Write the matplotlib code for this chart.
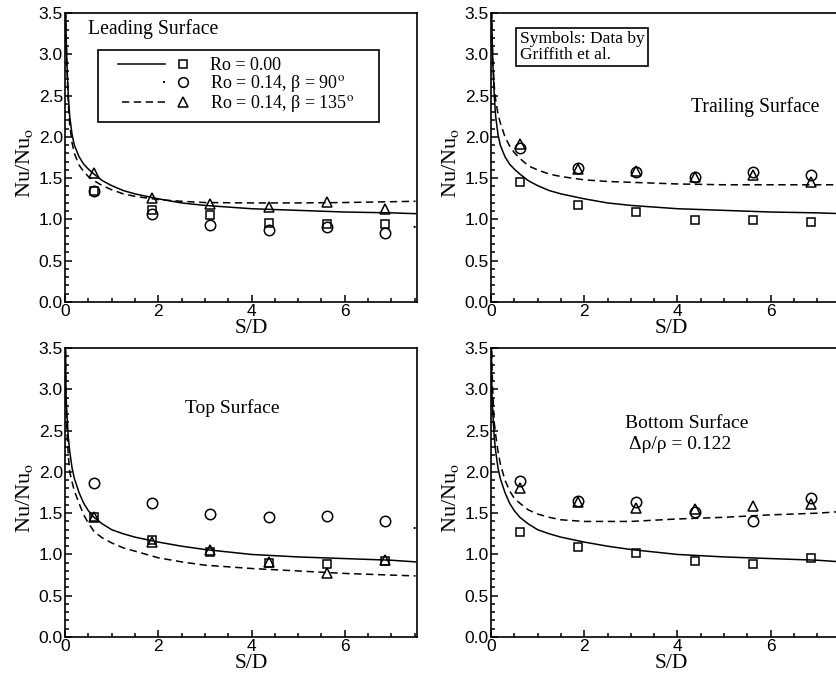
import matplotlib
matplotlib.use("Agg")
import matplotlib.pyplot as plt
from matplotlib.legend_handler import HandlerBase
from matplotlib.lines import Line2D
from matplotlib.ticker import MultipleLocator

plt.rcParams["font.family"] = "Liberation Serif"
plt.rcParams["mathtext.fontset"] = "stix"

# Griffith et al. measurements, taken at every rib station
s_pts = [0.62, 1.87, 3.12, 4.37, 5.62, 6.87]

lead_ro0 = [1.35, 1.12, 1.05, 0.96, 0.95, 0.94]
lead_b90 = [1.34, 1.06, 0.93, 0.87, 0.91, 0.84]
lead_b135 = [1.56, 1.26, 1.19, 1.15, 1.21, 1.13]

trail_ro0 = [1.45, 1.17, 1.09, 0.99, 0.99, 0.97]
trail_b90 = [1.86, 1.62, 1.58, 1.52, 1.57, 1.54]
trail_b135 = [1.91, 1.61, 1.59, 1.51, 1.54, 1.45]

top_ro0 = [1.45, 1.17, 1.03, 0.90, 0.88, 0.92]
top_b90 = [1.87, 1.62, 1.49, 1.45, 1.46, 1.40]
top_b135 = [1.45, 1.15, 1.06, 0.91, 0.78, 0.93]

bot_ro0 = [1.27, 1.09, 1.02, 0.92, 0.89, 0.96]
bot_b90 = [1.89, 1.65, 1.64, 1.52, 1.41, 1.68]
bot_b135 = [1.80, 1.64, 1.56, 1.55, 1.59, 1.61]

# computed spanwise averages along the duct
s_cur = [0.005, 0.02, 0.04, 0.07, 0.1, 0.15, 0.2, 0.3, 0.4, 0.5, 0.62, 0.8,
         1.0, 1.25, 1.5, 2.0, 2.5, 3.0, 4.0, 5.0, 6.0, 7.0, 7.52]

lt_ro0_cur = [3.9, 3.3, 2.9, 2.5, 2.25, 2.03, 1.9, 1.76, 1.67, 1.61, 1.55, 1.47,
              1.41, 1.35, 1.31, 1.25, 1.20, 1.17, 1.13, 1.11, 1.09, 1.08, 1.07]
tb_ro0_cur = [3.9, 2.95, 2.7, 2.42, 2.25, 2.05, 1.92, 1.75, 1.62, 1.53, 1.45, 1.37,
              1.30, 1.25, 1.21, 1.15, 1.10, 1.06, 1.00, 0.97, 0.95, 0.93, 0.91]

lead_b90_cur = [3.9, 3.1, 2.6, 2.2, 1.95, 1.72, 1.58, 1.42, 1.32, 1.26, 1.20, 1.14,
                1.10, 1.06, 1.03, 1.00, 0.98, 0.96, 0.94, 0.93, 0.92, 0.915, 0.91]
lead_b135_cur = [3.9, 3.25, 2.85, 2.4, 2.15, 1.93, 1.8, 1.66, 1.58, 1.52, 1.47, 1.41,
                 1.36, 1.31, 1.28, 1.24, 1.22, 1.205, 1.20, 1.20, 1.205, 1.215, 1.22]
trail_b135_cur = [3.9, 3.3, 2.9, 2.62, 2.45, 2.28, 2.17, 2.0, 1.89, 1.81, 1.74, 1.65,
                  1.60, 1.55, 1.52, 1.48, 1.46, 1.45, 1.43, 1.42, 1.42, 1.42, 1.42]
top_b90_cur = [3.9, 3.3, 2.95, 2.65, 2.45, 2.27, 2.15, 1.98, 1.87, 1.79, 1.72, 1.64,
               1.58, 1.53, 1.50, 1.46, 1.43, 1.41, 1.38, 1.36, 1.34, 1.33, 1.32]
top_b135_cur = [3.9, 2.9, 2.5, 2.2, 2.0, 1.88, 1.77, 1.62, 1.48, 1.38, 1.28, 1.20,
                1.14, 1.08, 1.04, 0.96, 0.91, 0.87, 0.83, 0.80, 0.77, 0.75, 0.74]
bot_b135_cur = [3.9, 3.3, 2.95, 2.6, 2.45, 2.25, 2.1, 1.9, 1.77, 1.68, 1.62, 1.54,
                1.49, 1.45, 1.42, 1.40, 1.40, 1.40, 1.43, 1.45, 1.48, 1.50, 1.52]

legend_labels = ["Ro = 0.00",
                 r"Ro = 0.14, β = 90$^{\rm o}$",
                 r"Ro = 0.14, β = 135$^{\rm o}$"]

DOT = (0, (1, 1000))
DASH = (0, (4.8, 3))
MS = {"s": 6, "o": 7.5, "^": 7.5}


class PairHandler(HandlerBase):
    # line sample followed by the symbol, like the Tecplot legends
    def create_artists(self, legend, orig_handle, xdescent, ydescent,
                       width, height, fontsize, trans):
        ls, mk = orig_handle
        y = height / 2 - ydescent
        x0 = -xdescent
        seg = Line2D([x0 + 0.66 * width, x0 + 0.14 * width], [y, y],
                     color="black", lw=1.4 if ls == DOT else 1.1, linestyle=ls)
        sym = Line2D([x0 + 0.86 * width], [y], marker=mk, ms=MS[mk] - 0.5,
                     mfc="none", mec="black", mew=1.1, linestyle="none")
        seg.set_transform(trans)
        sym.set_transform(trans)
        return [seg, sym]


fig = plt.figure(figsize=(8.36, 6.75), dpi=100)

w, h = 0.421, 0.428
boxes = [[0.0778, 0.5526, w, h], [0.5873, 0.5526, w, h],
         [0.0778, 0.0563, w, h], [0.5873, 0.0563, w, h]]
xlabel_x = [0.528, 0.511, 0.528, 0.511]

panels = [
    (lt_ro0_cur, lead_b90_cur, lead_b135_cur, lead_ro0, lead_b90, lead_b135),
    (lt_ro0_cur, None, trail_b135_cur, trail_ro0, trail_b90, trail_b135),
    (tb_ro0_cur, top_b90_cur, top_b135_cur, top_ro0, top_b90, top_b135),
    (tb_ro0_cur, None, bot_b135_cur, bot_ro0, bot_b90, bot_b135),
]

axes = []
for box, lx, (c0, c90, c135, d0, d90, d135) in zip(boxes, xlabel_x, panels):
    ax = fig.add_axes(box)
    axes.append(ax)
    ax.plot(s_cur, c0, color="black", lw=1.1)
    if c90 is not None:
        ax.plot(s_cur[::-1], c90[::-1], color="black", lw=1.4, linestyle=DOT)
    ax.plot(s_cur, c135, color="black", lw=1.1, linestyle=DASH)
    for vals, mk in ((d0, "s"), (d90, "o"), (d135, "^")):
        ax.plot(s_pts, vals, linestyle="none", marker=mk, ms=MS[mk],
                mfc="none", mec="black", mew=1.1)

    ax.set_xlim(0, 7.55)
    ax.set_ylim(0, 3.5)
    ax.xaxis.set_major_locator(MultipleLocator(2))
    ax.xaxis.set_minor_locator(MultipleLocator(0.5))
    ax.yaxis.set_major_locator(MultipleLocator(0.5))
    ax.yaxis.set_minor_locator(MultipleLocator(0.1))
    ax.yaxis.set_major_formatter(lambda v, p: f"{v:.1f}")
    ax.tick_params(which="both", direction="in", top=False, right=False,
                   width=1.1, labelsize=12.5, labelfontfamily="Liberation Sans")
    ax.tick_params(which="major", length=5, pad=1.5)
    ax.tick_params(which="minor", length=3)
    for sp in ax.spines.values():
        sp.set_linewidth(1.2)
    ax.set_xlabel("S/D", fontsize=15.5)
    ax.xaxis.set_label_coords(lx, -0.058)
    ax.set_ylabel(r"Nu/Nu$_{\rm o}$", fontsize=16)
    ax.yaxis.set_label_coords(-0.086, 0.48)

ax_lead, ax_trail, ax_top, ax_bot = axes

ax_lead.text(0.065, 0.945, "Leading Surface", fontsize=14.2,
             transform=ax_lead.transAxes, va="center")
handles = [("-", "s"), (DOT, "o"), (DASH, "^")]
ax_lead.legend(handles, legend_labels, handler_map={tuple: PairHandler()},
               loc="upper left", bbox_to_anchor=(0.094, 0.623, 0.798, 0.249),
               mode="expand", borderaxespad=0, fontsize=13, handlelength=5.0,
               handletextpad=0.8, borderpad=0.4, labelspacing=-0.05,
               fancybox=False, edgecolor="black", framealpha=1)
ax_lead.get_legend().get_frame().set_linewidth(1.2)

ax_trail.text(0.082, 0.938, "Symbols: Data by\nGriffith et al.", fontsize=12.5,
              transform=ax_trail.transAxes, va="top", linespacing=1.0,
              bbox=dict(boxstyle="square,pad=0.2", fc="white", ec="black", lw=1.2))
ax_trail.text(0.568, 0.675, "Trailing Surface", fontsize=14.2,
              transform=ax_trail.transAxes, va="center")

ax_top.text(0.341, 0.792, "Top Surface", fontsize=14,
            transform=ax_top.transAxes, va="center")

ax_bot.text(0.381, 0.740, "Bottom Surface", fontsize=14,
            transform=ax_bot.transAxes, va="center")
ax_bot.text(0.392, 0.668, "Δρ/ρ = 0.122", fontsize=14,
            transform=ax_bot.transAxes, va="center")

fig.savefig("out.png", dpi=100)
